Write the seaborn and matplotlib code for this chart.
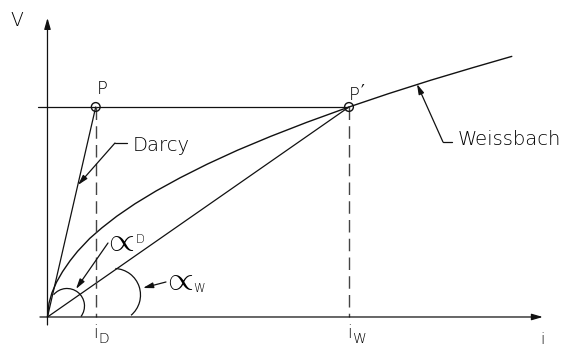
import numpy as np
import matplotlib
matplotlib.use("Agg")
import matplotlib.pyplot as plt
from matplotlib.patches import Arc
import seaborn as sns

# Hydraulic gradient i against flow velocity V (V scaled to 1 at P and P')
i_darcy = [0.0, 0.16]
v_darcy = [0.0, 1.0]
i_weiss = [0.0, 0.005, 0.015, 0.03, 0.05, 0.075, 0.1, 0.14, 0.18, 0.23, 0.29, 0.36,
           0.44, 0.53, 0.63, 0.74, 0.86, 1.0, 1.13, 1.27, 1.41, 1.54]
v_weiss = [0.0, 0.066, 0.116, 0.166, 0.216, 0.268, 0.313, 0.374, 0.424, 0.480, 0.539, 0.600,
           0.663, 0.728, 0.794, 0.860, 0.927, 1.0, 1.063, 1.127, 1.187, 1.241]
i_points = [0.16, 1.0]
v_points = [1.0, 1.0]
point_labels = ["P", "P"]
tick_subscripts = ["D", "W"]
curve_labels = ["Darcy", "Weissbach"]
axis_labels = ["V", "i"]

sns.set_theme(style="white")
plt.rcParams["font.family"] = ["DejaVu Sans"]

INK = "#111111"
TXT = dict(color="black", fontweight="light", family="DejaVu Sans")
SYM = dict(color="black", fontweight="normal", family=["DejaVu Sans", "Noto Sans"])
ANG = dict(color="black", math_fontfamily="cm")

fig = plt.figure(figsize=(5.67, 3.47), dpi=100)
ax = fig.add_axes([0, 0, 1, 1])
ax.set_xlim(-0.1575, 1.7231)
ax.set_ylim(-0.1429, 1.5095)
ax.set_axis_off()

# pixels per data unit, used to draw circular arcs on a non-square scale
SX, SY = 301.5, 210.0


def arrow(start, tip, lw=0.9, hl=0.55, hw=0.16):
    ax.annotate("", xy=tip, xytext=start,
                arrowprops=dict(arrowstyle=f"-|>,head_length={hl},head_width={hw}",
                                lw=lw, color=INK, shrinkA=0, shrinkB=0,
                                mutation_scale=12))


def pixel_arc(center, r_px, phi1, phi2):
    t1 = np.degrees(np.arctan2(np.sin(np.radians(phi1)) / SY, np.cos(np.radians(phi1)) / SX))
    t2 = np.degrees(np.arctan2(np.sin(np.radians(phi2)) / SY, np.cos(np.radians(phi2)) / SX))
    ax.add_patch(Arc(center, 2 * r_px / SX, 2 * r_px / SY, theta1=t1, theta2=t2,
                     color=INK, lw=0.9))


# axes with arrow heads
arrow((0.0, -0.038), (0.0, 1.424))
arrow((-0.025, 0.0), (1.643, 0.0))

# reference level through P and P'
ax.plot([-0.0315, i_points[1]], [v_points[0], v_points[1]], color=INK, lw=0.9)

# Darcy line, Weissbach curve and chord to P'
sns.lineplot(x=i_darcy, y=v_darcy, ax=ax, color=INK, lw=0.9, sort=False, estimator=None)
sns.lineplot(x=i_weiss, y=v_weiss, ax=ax, color=INK, lw=1.0, sort=False, estimator=None)
sns.lineplot(x=[0.0, i_points[1]], y=[0.0, v_points[1]], ax=ax, color=INK, lw=0.9,
             sort=False, estimator=None)

# dashed projections down to the i axis
for xi, vi in zip(i_points, v_points):
    ax.plot([xi, xi], [vi, 0.0], color="#444444", lw=1.0, ls=(0, (9.0, 4.5)))

# points P and P'
ax.scatter(i_points, v_points, s=40, facecolor="none", edgecolor=INK, lw=1.0, zorder=5)

# angle arcs
pixel_arc((0.0647, 0.0524), 17.5, -37, 140)
pixel_arc((0.2206, 0.1048), 26.5, -50, 87)

# leaders
ax.plot([0.2637, 0.2239], [0.8286, 0.8286], color=INK, lw=0.9)
arrow((0.2239, 0.8286), (0.1012, 0.6286), lw=0.9, hl=0.5, hw=0.14)
ax.plot([1.3416, 1.3118], [0.8333, 0.8333], color=INK, lw=0.9)
arrow((1.3118, 0.8333), (1.2255, 1.1095), lw=0.9, hl=0.5, hw=0.14)
arrow((0.2007, 0.3524), (0.0945, 0.1333), lw=0.9, hl=0.5, hw=0.14)
arrow((0.393, 0.1667), (0.3167, 0.1381), lw=0.9, hl=0.5, hw=0.14)

# text
ax.text(-0.101, 1.414, axis_labels[0], fontsize=13.5, ha="center", va="center", **TXT)
ax.text(1.640, -0.105, axis_labels[1], fontsize=11, ha="center", va="center", **TXT)
ax.text(0.181, 1.088, point_labels[0], fontsize=13, ha="center", va="center", **TXT)
ax.text(1.017, 1.057, point_labels[1], fontsize=13, ha="center", va="center", **TXT)
ax.text(1.046, 1.075, "\u2032", fontsize=12, ha="center", va="center", **SYM)
ax.text(0.2836, 0.8167, curve_labels[0], fontsize=14, ha="left", va="center", **TXT)
ax.text(1.3615, 0.8429, curve_labels[1], fontsize=14, ha="left", va="center", **TXT)

for xi, sub, dx in zip(i_points, tick_subscripts, [0.028, 0.033]):
    ax.text(xi, -0.076, "i", fontsize=12, ha="center", va="center", **TXT)
    ax.text(xi + dx, -0.104, sub, fontsize=10, ha="center", va="center", **TXT)

ax.text(0.238, 0.362, r"$\propto$", fontsize=24, ha="center", va="center", **ANG)
ax.text(0.307, 0.371, "D", fontsize=8.5, ha="center", va="center", **TXT)
ax.text(0.432, 0.178, r"$\propto$", fontsize=24, ha="center", va="center", **ANG)
ax.text(0.503, 0.136, "W", fontsize=8.5, ha="center", va="center", **TXT)

fig.savefig("out.png", dpi=100, facecolor="white")
